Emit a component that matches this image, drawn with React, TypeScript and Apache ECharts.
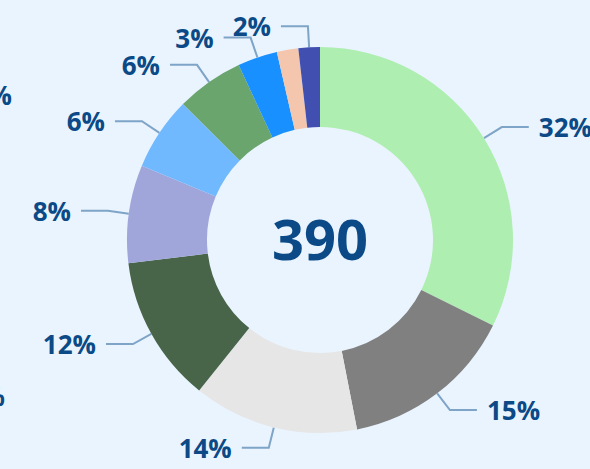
import React, { useEffect, useRef } from "react";
import * as echarts from "echarts";

const categories = ["A", "B", "C", "D", "E", "F", "G", "H", "I", "J"];
const values = [126, 57, 54, 48, 32, 24, 22, 13, 7, 7];
const colors = ["#aeeeb0", "#808080", "#e6e6e6", "#48654a", "#a0a6da", "#70b9ff", "#6aa56d", "#1890ff", "#f4c6ae", "#4150b0"];
const hiddenLabels = ["I"];
const edgeLabels = ["1%", "3%"];

const TEXT = "#0b4a86";
const FONT = "Open Sans";

export default function App() {
  const ref = useRef<HTMLDivElement>(null);
  useEffect(() => {
    if (!ref.current) return;
    const chart = echarts.init(ref.current, null, { renderer: "svg" });
    const total = values.reduce((a, b) => a + b, 0);
    chart.setOption({
      animation: false,
      backgroundColor: "#eaf4fe",
      graphic: [
        {
          type: "text",
          x: 320,
          y: 238,
          style: {
            text: String(total),
            fill: TEXT,
            font: `bold 56px "${FONT}"`,
            textAlign: "center",
            textVerticalAlign: "middle",
          },
        },
        {
          type: "text",
          x: 12,
          y: 95,
          style: { text: edgeLabels[0], fill: TEXT, font: `bold 26px "${FONT}"`, textAlign: "right", textVerticalAlign: "middle" },
        },
        {
          type: "text",
          x: 5,
          y: 396,
          style: { text: edgeLabels[1], fill: TEXT, font: `bold 26px "${FONT}"`, textAlign: "right", textVerticalAlign: "middle" },
        },
      ],
      series: [
        {
          type: "pie",
          center: [320, 240],
          radius: [113, 193],
          startAngle: 90,
          clockwise: true,
          avoidLabelOverlap: false,
          label: {
            show: true,
            color: TEXT,
            fontFamily: FONT,
            fontWeight: "bold",
            fontSize: 26,
            overflow: "none",
            distanceToLabelLine: 10,
            formatter: (p: any) => `${Math.round((p.value / total) * 100)}%`,
          },
          labelLine: {
            show: true,
            length: 21,
            length2: 27,
            lineStyle: { color: "#7ea4c8", width: 2 },
          },
          data: categories.map((c, i) => ({
            name: c,
            value: values[i],
            itemStyle: { color: colors[i] },
            label: hiddenLabels.includes(c) ? { show: false } : undefined,
            labelLine: hiddenLabels.includes(c) ? { show: false } : undefined,
          })),
        },
      ],
    });
    return () => chart.dispose();
  }, []);
  return <div ref={ref} style={{ position: "fixed", left: 0, top: 0, width: 590, height: 469 }} />;
}
